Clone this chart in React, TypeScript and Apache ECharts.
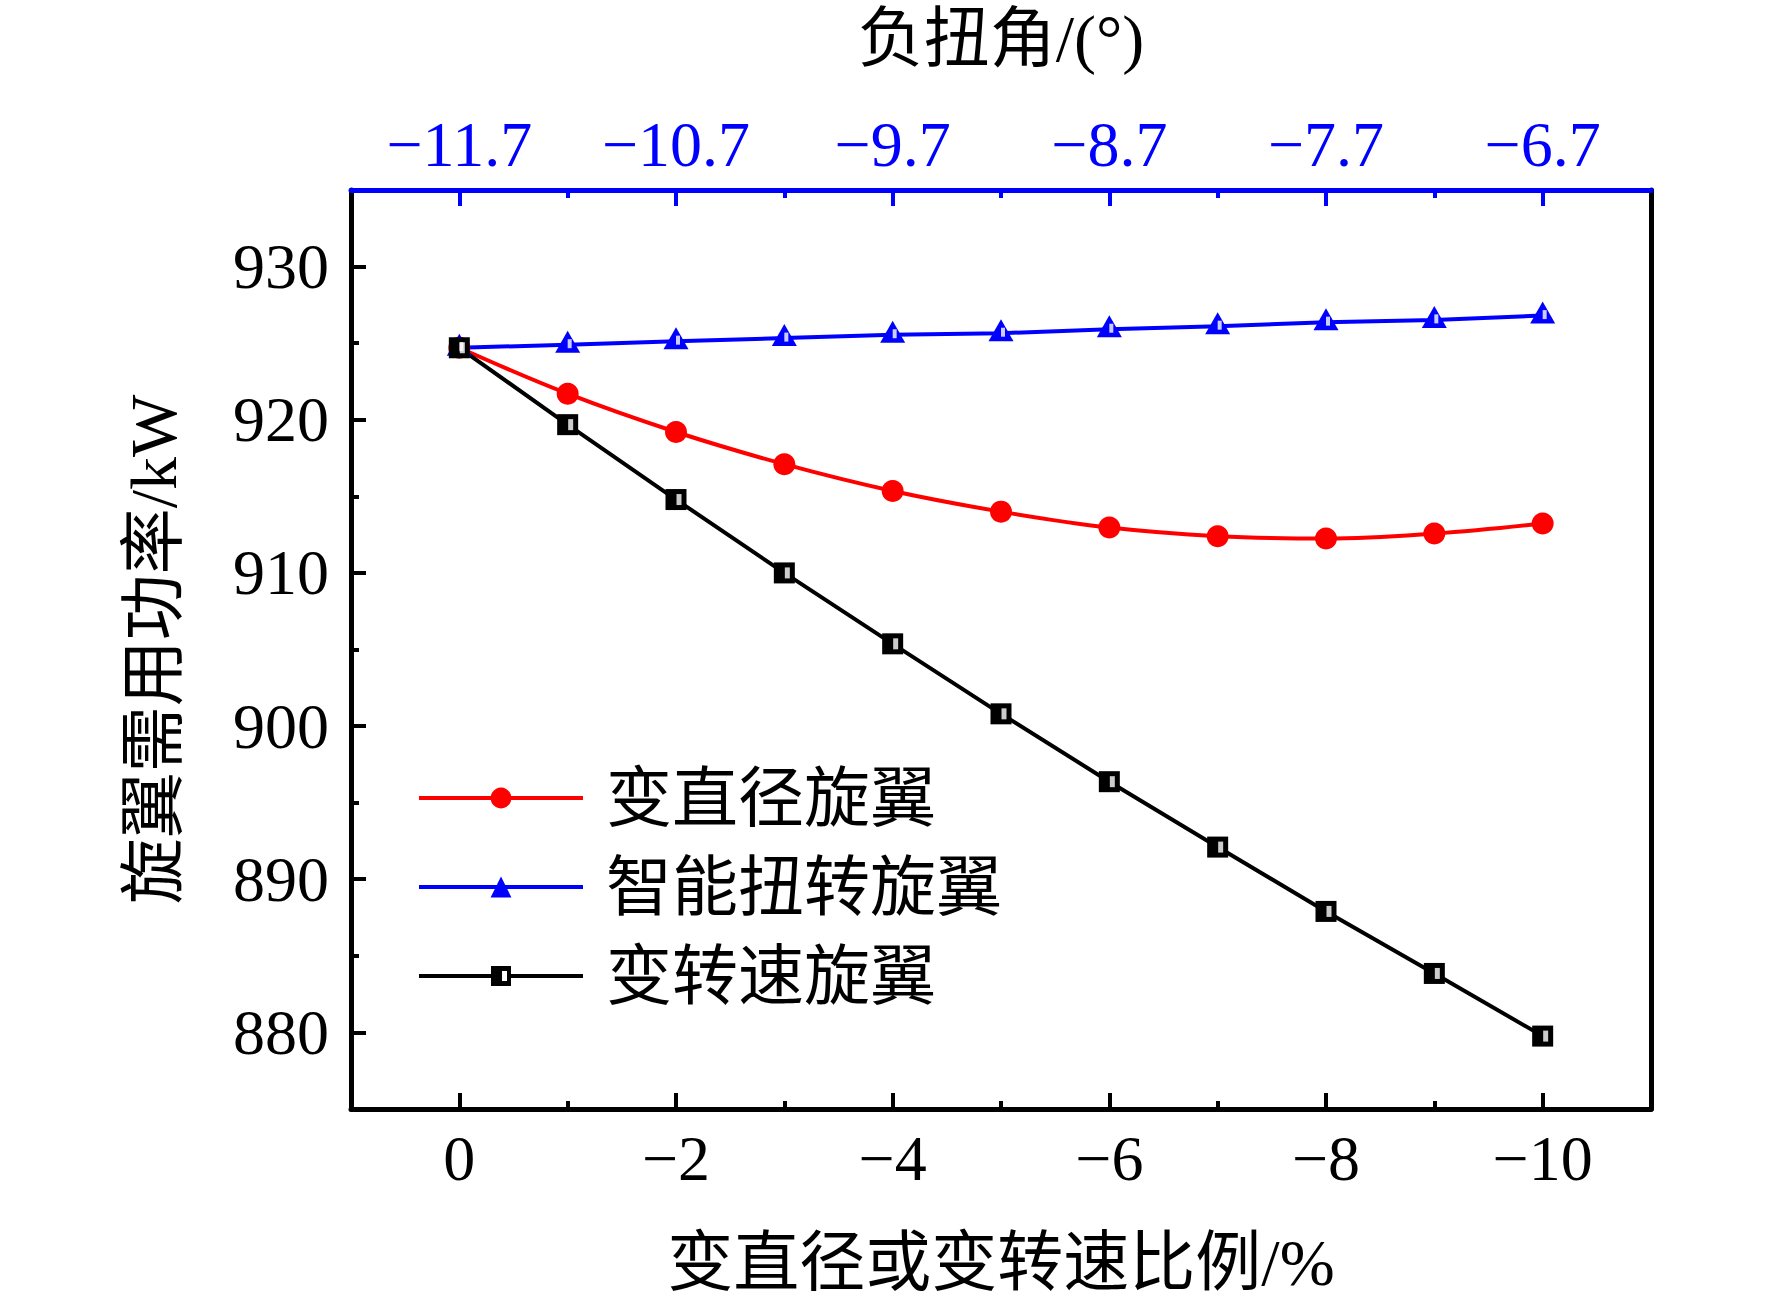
import React, { useEffect, useRef } from "react";
import * as echarts from "echarts";

const W = 1772;
const H = 1304;

// data
const xValues = [0, -1, -2, -3, -4, -5, -6, -7, -8, -9, -10];
const diameterPower = [924.7, 921.7, 919.2, 917.1, 915.35, 914.0, 912.96, 912.4, 912.25, 912.57, 913.23];
const twistPower = [924.7, 924.9, 925.13, 925.33, 925.55, 925.65, 925.91, 926.11, 926.37, 926.52, 926.8];
const speedPower = [924.7, 919.68, 914.79, 910.0, 905.37, 900.8, 896.37, 892.1, 887.9, 883.85, 879.76];

const seriesNames = ["变直径旋翼", "智能扭转旋翼", "变转速旋翼"];

const xMajorTicks = [0, -2, -4, -6, -8, -10];
const xMinorTicks = [-1, -3, -5, -7, -9];
const twistLabels = ["−11.7", "−10.7", "−9.7", "−8.7", "−7.7", "−6.7"];
const yMajorTicks = [880, 890, 900, 910, 920, 930];
const yMinorTicks = [885, 895, 905, 915, 925];

const xTitle = "变直径或变转速比例/%";
const yTitle = "旋翼需用功率/kW";
const topTitle = "负扭角/(°)";

const BLUE = "#0000ff";
const RED = "#ff0000";
const BLACK = "#000000";

const serif = '"Liberation Serif", "Times New Roman", serif';
const cjk = '"Liberation Serif", "Noto Sans CJK SC", serif';

const blackLegendIcon =
  "path://M0,0L0.01,0L0,0.01Z M164,26L163.99,26L164,25.99Z " +
  "M0,11H72V15H0Z M72,3H92V23H72Z M83,8V18H88V8Z M92,11H164V15H92Z";

const pairs = (ys: number[]) => xValues.map((x, i) => [x, ys[i]]);

export default function App() {
  const ref = useRef<HTMLDivElement>(null);

  useEffect(() => {
    if (!ref.current) return;
    const chart = echarts.init(ref.current, null, { renderer: "svg", width: W, height: H });

    const xBase = {
      type: "value",
      min: -11,
      max: 1,
      inverse: true,
      splitLine: { show: false },
    };
    const yBase = {
      type: "value",
      min: 875,
      max: 935,
      splitLine: { show: false },
    };
    const fmtX = (v: number) => (v === 0 ? "0" : "−" + Math.abs(v));
    const fmtTop = (v: number) => {
      const i = xMajorTicks.indexOf(Math.round(v));
      return i >= 0 ? twistLabels[i] : "";
    };

    const option: any = {
      animation: false,
      backgroundColor: "#ffffff",
      grid: { left: 351, right: 121, top: 189, bottom: 195, containLabel: false },
      legend: {
        orient: "vertical",
        left: 412,
        top: 760,
        itemWidth: 164,
        itemHeight: 26,
        itemGap: 23,
        lineStyle: { width: 4 },
        data: [
          { name: seriesNames[0] },
          { name: seriesNames[1] },
          { name: seriesNames[2], icon: blackLegendIcon },
        ],
        textStyle: { fontSize: 66, fontFamily: cjk, color: BLACK, padding: [0, 0, 0, 18] },
      },
      xAxis: [
        {
          ...xBase,
          position: "bottom",
          axisLine: { show: true, onZero: false, lineStyle: { color: BLACK, width: 5 } },
          axisTick: { show: true, inside: true, length: 16, customValues: xMajorTicks, lineStyle: { color: BLACK, width: 4 } },
          axisLabel: { show: true, customValues: xMajorTicks, formatter: fmtX, fontSize: 64, fontFamily: serif, color: BLACK, margin: 17 },
          name: xTitle,
          nameLocation: "middle",
          nameGap: 120,
          nameTextStyle: { fontSize: 66, fontFamily: cjk, color: BLACK },
        },
        {
          ...xBase,
          position: "bottom",
          axisLine: { show: false, onZero: false },
          axisTick: { show: true, inside: true, length: 8, customValues: xMinorTicks, lineStyle: { color: BLACK, width: 4 } },
          axisLabel: { show: false },
        },
        {
          ...xBase,
          position: "top",
          axisLine: { show: true, onZero: false, lineStyle: { color: BLUE, width: 5 } },
          axisTick: { show: true, inside: true, length: 16, customValues: xMajorTicks, lineStyle: { color: BLUE, width: 4 } },
          axisLabel: { show: true, customValues: xMajorTicks, formatter: fmtTop, fontSize: 64, fontFamily: serif, color: BLUE, margin: 14 },
          name: topTitle,
          nameLocation: "middle",
          nameGap: 119,
          nameTextStyle: { fontSize: 66, fontFamily: cjk, color: BLACK },
        },
        {
          ...xBase,
          position: "top",
          axisLine: { show: false, onZero: false },
          axisTick: { show: true, inside: true, length: 8, customValues: xMinorTicks, lineStyle: { color: BLUE, width: 4 } },
          axisLabel: { show: false },
        },
      ],
      yAxis: [
        {
          ...yBase,
          position: "left",
          axisLine: { show: true, onZero: false, lineStyle: { color: BLACK, width: 5 } },
          axisTick: { show: true, inside: true, length: 15, customValues: yMajorTicks, lineStyle: { color: BLACK, width: 4 } },
          axisLabel: { show: true, customValues: yMajorTicks, fontSize: 64, fontFamily: serif, color: BLACK, margin: 22 },
          name: yTitle,
          nameLocation: "middle",
          nameGap: 165,
          nameTextStyle: { fontSize: 66, fontFamily: cjk, color: BLACK },
        },
        {
          ...yBase,
          position: "left",
          axisLine: { show: false, onZero: false },
          axisTick: { show: true, inside: true, length: 8, customValues: yMinorTicks, lineStyle: { color: BLACK, width: 4 } },
          axisLabel: { show: false },
        },
        {
          ...yBase,
          position: "right",
          axisLine: { show: true, onZero: false, lineStyle: { color: BLACK, width: 5 } },
          axisTick: { show: false },
          axisLabel: { show: false },
        },
      ],
      series: [
        {
          name: seriesNames[0],
          type: "line",
          xAxisIndex: 0,
          yAxisIndex: 0,
          data: pairs(diameterPower),
          smooth: 0.4,
          symbol: "circle",
          symbolSize: 22,
          lineStyle: { color: RED, width: 4 },
          itemStyle: { color: RED },
        },
        {
          name: seriesNames[1],
          type: "line",
          xAxisIndex: 0,
          yAxisIndex: 0,
          data: pairs(twistPower),
          symbol: "triangle",
          symbolSize: [25, 22],
          symbolOffset: [0, -3],
          lineStyle: { color: BLUE, width: 4 },
          itemStyle: { color: BLUE },
        },
        {
          name: seriesNames[2],
          type: "line",
          xAxisIndex: 0,
          yAxisIndex: 0,
          data: pairs(speedPower),
          symbol: "rect",
          symbolSize: 21,
          lineStyle: { color: BLACK, width: 4 },
          itemStyle: { color: BLACK },
        },
        {
          name: "twist-slot",
          type: "scatter",
          xAxisIndex: 0,
          yAxisIndex: 0,
          data: pairs(twistPower),
          symbol: "rect",
          symbolSize: [4, 9],
          symbolOffset: [2, -1],
          itemStyle: { color: "#ffffff" },
          silent: true,
          z: 3,
        },
        {
          name: "speed-slot",
          type: "scatter",
          xAxisIndex: 0,
          yAxisIndex: 0,
          data: pairs(speedPower),
          symbol: "rect",
          symbolSize: [5, 11],
          symbolOffset: [3, 0],
          itemStyle: { color: "#ffffff" },
          silent: true,
          z: 4,
        },
      ],
    };

    chart.setOption(option);
    return () => chart.dispose();
  }, []);

  return (
    <div
      ref={ref}
      style={{ position: "fixed", left: 0, top: 0, width: W, height: H, background: "#ffffff" }}
    />
  );
}
